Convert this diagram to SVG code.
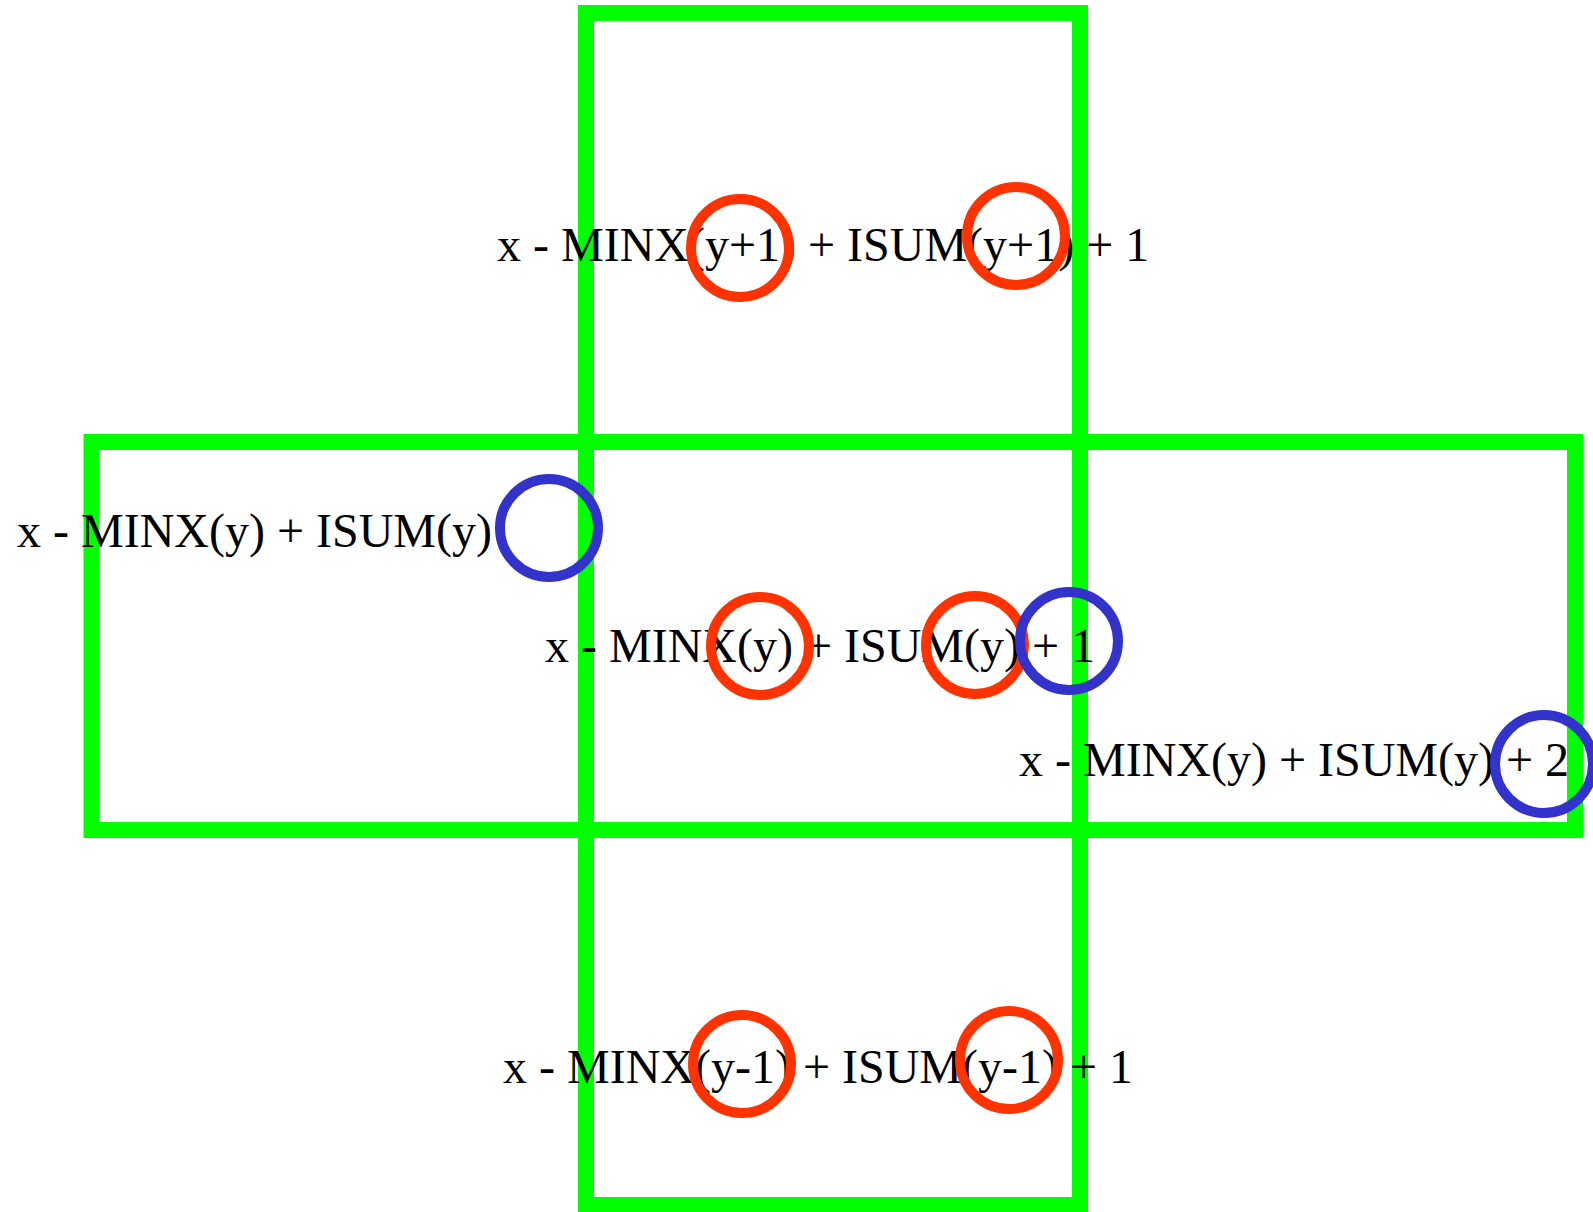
<svg xmlns="http://www.w3.org/2000/svg" width="1593" height="1212" viewBox="0 0 1593 1212">
<style>
.box{fill:none;stroke:#00FF00;stroke-width:16;stroke-linejoin:miter}
.t{font-family:"Liberation Serif","Times New Roman",serif;font-size:48px;fill:#000}
.red{fill:none;stroke:#FF3300;stroke-width:10}
.blue{fill:none;stroke:#3333CC;stroke-width:10}
</style>
<rect width="1593" height="1212" fill="#fff"/>
<g id="box-top"><rect class="box" x="586" y="13" width="494" height="429"/></g>
<g id="box-middle"><rect class="box" x="91.5" y="442" width="1483.5" height="388"/></g>
<g id="box-bottom"><rect class="box" x="586" y="442" width="494" height="763"/></g>
<g id="connectors"></g>
<g id="labels">
<text class="t" x="497" y="261">x - MINX(y+1) + ISUM(y+1) + 1</text>
<text class="t" x="17" y="547">x - MINX(y) + ISUM(y)</text>
<text class="t" x="545" y="662">x - MINX(y) + ISUM(y) + 1</text>
<text class="t" x="1019" y="776">x - MINX(y) + ISUM(y) + 2</text>
<text class="t" x="503" y="1083">x - MINX(y-1) + ISUM(y-1) + 1</text>
</g>
<g id="markers">
<circle class="red" cx="740" cy="248" r="49"/>
<circle class="red" cx="1016" cy="236" r="49"/>
<circle class="red" cx="760" cy="646" r="49"/>
<circle class="red" cx="975" cy="645" r="49"/>
<circle class="red" cx="742" cy="1064" r="49"/>
<circle class="red" cx="1009" cy="1060" r="49"/>
<circle class="blue" cx="549" cy="528" r="49"/>
<circle class="blue" cx="1069" cy="641" r="49"/>
<circle class="blue" cx="1544" cy="764" r="49"/>
</g>
</svg>
